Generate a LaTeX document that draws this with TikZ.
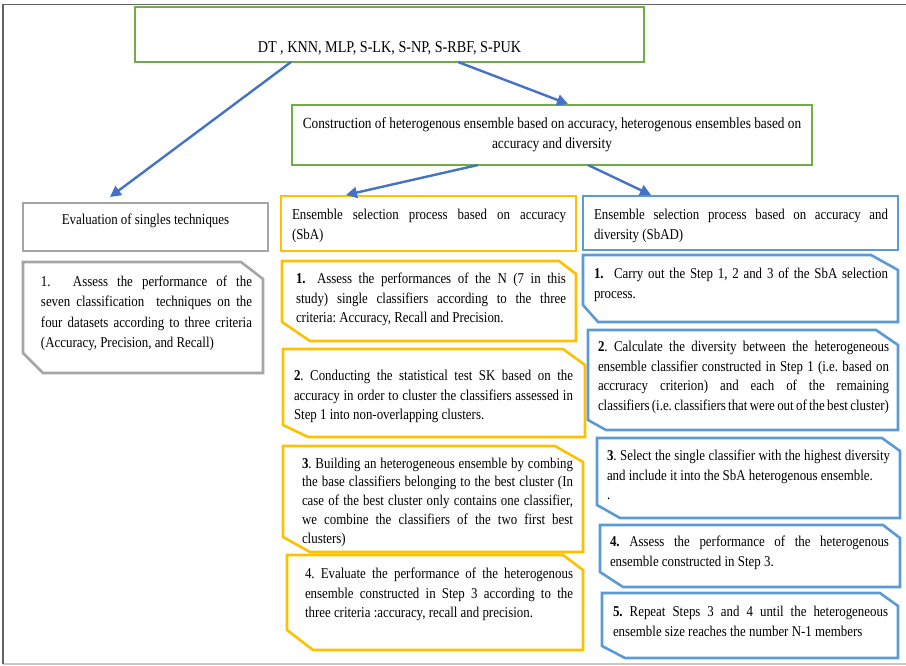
\documentclass[tikz,border=0pt]{standalone}
\usepackage{fontspec}
\setmainfont{Liberation Serif}[FakeStretch=0.86]
\usetikzlibrary{arrows.meta}
\definecolor{gGreen}{RGB}{112,173,71}
\definecolor{yOrange}{RGB}{255,192,0}
\definecolor{bBlue}{RGB}{91,155,213}
\definecolor{gGray}{RGB}{165,165,165}
\definecolor{aBlue}{RGB}{68,114,196}
\definecolor{frameDark}{RGB}{100,100,100}
\definecolor{frameLight}{RGB}{200,200,200}
\newcommand{\bdfont}{\fontsize{15}{19.5}\selectfont}
\newcommand{\snipoutline}[6]{%
  \draw[boxline,draw=#2] (#1.north west) -- ([xshift=-#3pt]#1.north east) -- ([yshift=-#4pt]#1.north east)
    -- (#1.south east) -- ([xshift=#5pt]#1.south west) -- ([yshift=#6pt]#1.south west) -- cycle;}
\frenchspacing
\begin{document}
\begin{tikzpicture}[x=1pt,y=-1pt,
  boxarea/.style={rectangle,inner sep=0pt,outer sep=0pt,anchor=north west},
  boxline/.style={line width=2.6pt,line join=miter},
  greenbox/.style={boxarea,draw=gGreen,boxline},
  grayrect/.style={boxarea,draw=gGray,boxline},
  orangerect/.style={boxarea,draw=yOrange,boxline},
  bluerect/.style={boxarea,draw=bBlue,boxline},
  txt/.style={inner sep=0pt,outer sep=0pt,anchor=north west,align=justify,font=\bdfont},
  ctxt/.style={inner sep=0pt,outer sep=0pt,anchor=north,align=center,font=\bdfont},
  flow/.style={draw=aBlue,line width=2.4pt,-{Triangle[length=11pt,width=11pt]}},
]
\useasboundingbox (0,0) rectangle (906,666);
% outer frame
\draw[frameLight,line width=1.2pt] (3,664) -- (906,664);
\draw[frameDark,line width=1.5pt] (3,664) -- (3,4.5) -- (906,4.5);

% green boxes
\node[greenbox,minimum width=509,minimum height=55] (top) at (135,7) {};
\node[inner sep=0pt,anchor=base,font=\fontsize{16.5}{20}\selectfont] (toptxt) at (389.5,52.5) {DT , KNN, MLP, S-LK, S-NP, S-RBF, S-PUK};
\node[greenbox,minimum width=520,minimum height=60] (constr) at (292,105) {};
\node[ctxt,font=\fontsize{15.5}{20}\selectfont] (constrtxt) at (552,115) {\strut Construction of heterogenous ensemble based on accuracy, heterogenous ensembles based on\\ accuracy and diversity};

% gray column
\node[grayrect,minimum width=245,minimum height=48] (evalh) at (23,203) {};
\node[ctxt] (evalhtxt) at (145.5,211) {\strut Evaluation of singles techniques};
\node[boxarea,minimum width=240,minimum height=111] (evals) at (23,262) {};
\snipoutline{evals}{gGray}{22}{17}{20}{20}
\node[txt,text width=211pt,font=\fontsize{15}{20.5}\selectfont] (evalstxt) at (41,272) {\strut\makebox[32pt][l]{1.}Assess the performance of the\linebreak seven classification\ \ techniques on the\linebreak four datasets according to three criteria\linebreak (Accuracy, Precision, and Recall)};

% orange column
\node[orangerect,minimum width=295,minimum height=55] (yhead) at (281,196) {};
\node[txt,text width=274pt] (yheadtxt) at (292,206) {\strut Ensemble selection process based on accuracy\linebreak (SbA)};
\node[boxarea,minimum width=294,minimum height=80] (y1) at (282,261) {};
\snipoutline{y1}{yOrange}{17}{13}{28}{19}
\node[txt,text width=270pt] (y1txt) at (296,270) {\hangindent=21pt\hangafter=1 \strut\makebox[21pt][l]{\textbf{1.}}Assess the performances of the N (7 in this\linebreak study) single classifiers according to the three\linebreak criteria: Accuracy, Recall and Precision.};
\node[boxarea,minimum width=302,minimum height=88] (y2) at (283,349) {};
\snipoutline{y2}{yOrange}{22}{16}{25}{12}
\node[txt,text width=279pt] (y2txt) at (294,367) {\strut\textbf{2}. Conducting the statistical test SK based on the\linebreak accuracy in order to cluster the classifiers assessed in\linebreak Step 1 into non-overlapping clusters.};
\node[boxarea,minimum width=300,minimum height=106] (y3) at (283,446) {};
\snipoutline{y3}{yOrange}{28}{16}{27}{15}
\node[txt,text width=271pt,font=\fontsize{15}{18.8}\selectfont] (y3txt) at (302,455) {\strut\textbf{3}. Building an heterogeneous ensemble by combing\linebreak the base classifiers belonging to the best cluster (In\linebreak case of the best cluster only contains one classifier,\linebreak we combine the classifiers of the two first best\linebreak clusters)};
\node[boxarea,minimum width=296,minimum height=95] (y4) at (287,555) {};
\snipoutline{y4}{yOrange}{20}{15}{26}{20}
\node[txt,text width=268pt] (y4txt) at (305,565) {\strut 4. Evaluate the performance of the heterogenous\linebreak ensemble constructed in Step 3 according to the\linebreak three criteria :accuracy, recall and precision.};

% blue column
\node[bluerect,minimum width=315,minimum height=54] (bhead) at (583,196) {};
\node[txt,text width=294pt] (bheadtxt) at (594,206) {\strut Ensemble selection process based on accuracy and\linebreak diversity (SbAD)};
\node[boxarea,minimum width=315,minimum height=67] (b1) at (583,255) {};
\snipoutline{b1}{bBlue}{27}{15}{15}{17}
\node[txt,text width=294pt] (b1txt) at (594,265) {\strut\makebox[20pt][l]{\textbf{1.}}Carry out the Step 1, 2 and 3 of the SbA selection\linebreak process.};
\node[boxarea,minimum width=310,minimum height=100] (b2) at (588,330) {};
\snipoutline{b2}{bBlue}{22}{15}{18}{10}
\node[txt,text width=291pt] (b2txt) at (598,338) {\strut\textbf{2}. Calculate the diversity between the heterogeneous\linebreak ensemble classifier constructed in Step 1 (i.e. based on\linebreak accruracy criterion) and each of the remaining\linebreak \makebox[\linewidth][s]{classifiers (i.e. classifiers that were out of the best cluster)}};
\node[boxarea,minimum width=303,minimum height=80] (b3) at (597,438) {};
\snipoutline{b3}{bBlue}{18}{13}{23}{13}
\node[txt,text width=283pt] (b3txt) at (607,447) {\strut\textbf{3}. Select the single classifier with the highest diversity\linebreak and include it into the SbA heterogenous ensemble.\\ .};
\node[boxarea,minimum width=300,minimum height=62] (b4) at (600,525) {};
\snipoutline{b4}{bBlue}{17}{13}{23}{15}
\node[txt,text width=279pt] (b4txt) at (610,533) {\strut\textbf{4.}\ Assess the performance of the heterogenous\linebreak ensemble constructed in Step 3.};
\node[boxarea,minimum width=296,minimum height=65] (b5) at (602,593) {};
\snipoutline{b5}{bBlue}{18}{13}{23}{12}
\node[txt,text width=275pt] (b5txt) at (613,603) {\strut\textbf{5.} Repeat Steps 3 and 4 until the heterogeneous\linebreak ensemble size reaches the number N-1 members};

% connectors
\draw[flow] ([xshift=-98.5pt]top.south) -- ([xshift=-35.5pt,yshift=6pt]evalh.north);
\draw[flow] ([xshift=68.5pt]top.south) -- ([xshift=16pt,yshift=1pt]constr.north);
\draw[flow] ([xshift=-74pt]constr.south) -- ([xshift=-82.5pt,yshift=1pt]yhead.north);
\draw[flow] ([xshift=36pt]constr.south) -- ([xshift=-89.5pt,yshift=1pt]bhead.north);
\end{tikzpicture}
\end{document}
